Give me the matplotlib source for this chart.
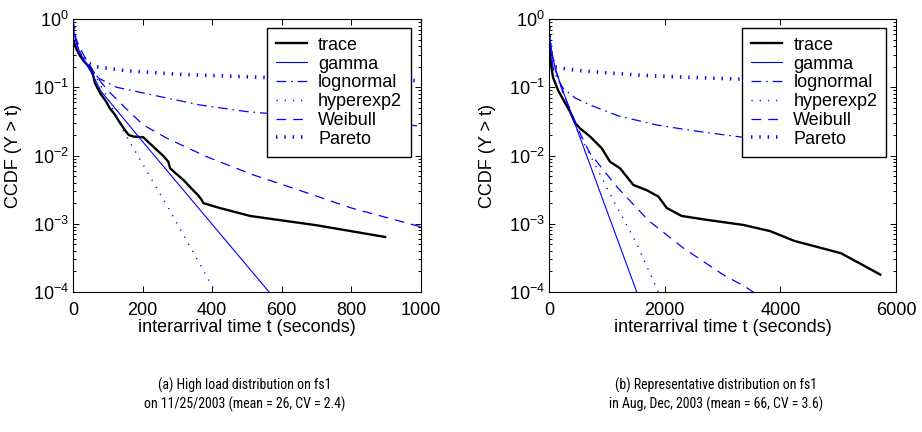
import matplotlib
matplotlib.use("Agg")
import matplotlib.pyplot as plt
from matplotlib import font_manager
from matplotlib.font_manager import FontProperties

# ---------------------------------------------------------------- data
# (a) high load day on fs1 -- t in seconds, CCDF values
trace_a_t = [0, 5, 10, 20, 30, 40, 50, 55, 60, 63, 78, 95, 106, 120, 130, 149, 160,
             173, 202, 215, 236, 260, 274, 279, 295, 317, 340, 360, 368, 375, 422,
             509, 700, 897]
trace_a_y = [0.52, 0.42, 0.36, 0.29, 0.245, 0.215, 0.195, 0.17, 0.135, 0.115, 0.082,
             0.062, 0.049, 0.040, 0.033, 0.0236, 0.020, 0.019, 0.0185, 0.016, 0.0127,
             0.0098, 0.0081, 0.0065, 0.0055, 0.0044, 0.0033, 0.0026, 0.0023, 0.0020,
             0.0017, 0.0013, 0.00095, 0.00064]

gamma_a_t = [0, 3, 8, 15, 25, 40, 60, 80, 200, 422, 600]
gamma_a_y = [1.0, 0.65, 0.48, 0.37, 0.29, 0.21, 0.14, 0.088, 0.016, 0.00072, 0.00006]

lognorm_a_t = [0, 5, 15, 30, 50, 75, 125, 250, 365, 499, 750, 1000]
lognorm_a_y = [1.0, 0.55, 0.37, 0.26, 0.18, 0.135, 0.10, 0.073, 0.055, 0.044, 0.034, 0.027]

hyper_a_t = [0, 5, 15, 30, 50, 70, 100, 125, 154, 277, 420]
hyper_a_y = [1.0, 0.6, 0.42, 0.30, 0.20, 0.13, 0.07, 0.036, 0.019, 0.0016, 0.00008]

weib_a_t = [0, 5, 15, 30, 50, 68, 100, 150, 202, 269, 384, 518, 650, 800, 1000]
weib_a_y = [1.0, 0.6, 0.42, 0.30, 0.20, 0.143, 0.09, 0.05, 0.028, 0.018, 0.0096,
            0.0052, 0.0031, 0.0017, 0.0009]

pareto_a_t = [0, 3, 10, 25, 45, 67, 150, 300, 537, 750, 1000]
pareto_a_y = [1.0, 0.6, 0.38, 0.27, 0.225, 0.20, 0.175, 0.155, 0.14, 0.132, 0.125]

# (b) representative days on fs1
trace_b_t = [0, 12, 40, 69, 155, 250, 363, 450, 536, 709, 911, 1055, 1228, 1459, 1690,
             1892, 2036, 2295, 2700, 3362, 3824, 4243, 5049, 5728]
trace_b_y = [0.45, 0.36, 0.2, 0.14, 0.091, 0.065, 0.044, 0.030, 0.025, 0.019, 0.0128,
             0.0081, 0.0065, 0.0037, 0.0031, 0.0025, 0.0017, 0.0013, 0.00115, 0.00096,
             0.00078, 0.00056, 0.00037, 0.00018]

gamma_b_t = [0, 10, 30, 60, 100, 200, 363, 1517, 1600]
gamma_b_y = [1.0, 0.6, 0.42, 0.30, 0.20, 0.11, 0.046, 0.0001, 0.000064]

lognorm_b_t = [0, 10, 30, 80, 150, 248, 450, 709, 1200, 1863, 2500, 3247, 4500, 5728]
lognorm_b_y = [1.0, 0.5, 0.3, 0.18, 0.13, 0.096, 0.07, 0.055, 0.038, 0.028, 0.023,
               0.019, 0.014, 0.0115]

hyper_b_t = [0, 20, 60, 150, 300, 507, 1113, 1517, 1891, 1950]
hyper_b_y = [1.0, 0.55, 0.30, 0.15, 0.065, 0.022, 0.0022, 0.00051, 0.0001, 0.00008]

weib_b_t = [0, 15, 50, 120, 250, 400, 550, 709, 1170, 1718, 2324, 3016, 3391, 3700]
weib_b_y = [1.0, 0.5, 0.3, 0.17, 0.08, 0.04, 0.02, 0.0108, 0.0035, 0.00112, 0.00044,
            0.000178, 0.00012, 0.00008]

pareto_b_t = [0, 5, 20, 50, 104, 300, 536, 1000, 1574, 2400, 3247, 4500, 5728]
pareto_b_y = [1.0, 0.45, 0.28, 0.215, 0.20, 0.185, 0.175, 0.163, 0.15, 0.14, 0.132,
              0.124, 0.118]

xticks_a = [0, 200, 400, 600, 800, 1000]
xticks_b = [0, 2000, 4000, 6000]

caption_a = ["(a) High load distribution on fs1",
             "on 11/25/2003 (mean = 26, CV = 2.4)"]
caption_b = ["(b) Representative distribution on fs1",
             "in Aug, Dec, 2003 (mean = 66, CV = 3.6)"]

labels = ["trace", "gamma", "lognormal", "hyperexp2", "Weibull", "Pareto"]

# ---------------------------------------------------------------- style
plt.rcParams["font.family"] = ["Liberation Sans", "DejaVu Sans"]
plt.rcParams["mathtext.fontset"] = "custom"
plt.rcParams["mathtext.rm"] = "Liberation Sans"
plt.rcParams["mathtext.it"] = "Liberation Sans:italic"
plt.rcParams["mathtext.default"] = "regular"
plt.rcParams["lines.scale_dashes"] = False


def caption_font():
    """Prefer a narrow sans face for the sub-figure captions."""
    fonts = font_manager.fontManager.ttflist
    for want in ("Liberation Sans Narrow", "DejaVu Sans Condensed", "Roboto Condensed",
                 "Open Sans Condensed"):
        for f in fonts:
            if f.name == want and f.style == "normal" and f.weight in (400, "normal", "regular"):
                return FontProperties(fname=f.fname, size=10.0)
    for f in fonts:
        if (f.name.startswith(("DejaVu Sans", "Liberation Sans", "Roboto", "Open Sans"))
                and str(f.stretch) in ("condensed", "semi-condensed", "75", "87.5")
                and f.style == "normal" and f.weight in (400, "normal", "regular")
                and "Mono" not in f.name):
            return FontProperties(fname=f.fname, size=10.0)
    return FontProperties(family="Liberation Sans", size=9.0)


cap_fp = caption_font()

BLUE = "#0000ff"
styles = [
    dict(color="black", lw=1.7, ls="-"),
    dict(color=BLUE, lw=0.8, ls="-"),
    dict(color=BLUE, lw=0.9, ls=(0, (7, 3.5, 1.2, 3.5))),
    dict(color=BLUE, lw=1.0, ls=(0, (0.9, 5.0))),
    dict(color=BLUE, lw=0.9, ls=(0, (7, 5))),
    dict(color=BLUE, lw=2.6, ls=(0, (1.0, 5.0))),
]

fig = plt.figure(figsize=(9.22, 4.32), dpi=100)
ax_a = fig.add_axes([73 / 922, 1 - 292 / 432, 348 / 922, 273 / 432])
ax_b = fig.add_axes([549 / 922, 1 - 292 / 432, 347 / 922, 273 / 432])

panels = [
    (ax_a, [(trace_a_t, trace_a_y), (gamma_a_t, gamma_a_y), (lognorm_a_t, lognorm_a_y),
            (hyper_a_t, hyper_a_y), (weib_a_t, weib_a_y), (pareto_a_t, pareto_a_y)],
     xticks_a, -0.147),
    (ax_b, [(trace_b_t, trace_b_y), (gamma_b_t, gamma_b_y), (lognorm_b_t, lognorm_b_y),
            (hyper_b_t, hyper_b_y), (weib_b_t, weib_b_y), (pareto_b_t, pareto_b_y)],
     xticks_b, -0.153),
]

for ax, series, xticks, ylab_x in panels:
    handles = []
    for (t, y), st, lab in zip(series, styles, labels):
        h, = ax.plot(t, y, label=lab, dash_capstyle="butt", **st)
        handles.append(h)
    ax.set_yscale("log")
    ax.set_ylim(1e-4, 1)
    ax.set_xlim(xticks[0], xticks[-1])
    ax.set_xticks(xticks)
    ax.set_yticks([1e-4, 1e-3, 1e-2, 1e-1, 1])
    ax.tick_params(which="both", direction="in", top=True, right=True,
                   labelsize=13, width=0.7)
    ax.tick_params(which="major", length=4)
    ax.tick_params(which="minor", length=2)
    ax.tick_params(axis="x", pad=7)
    ax.tick_params(axis="y", pad=3)
    for sp in ax.spines.values():
        sp.set_linewidth(0.8)
    ax.set_xlabel("interarrival time t (seconds)", fontsize=13)
    ax.xaxis.set_label_coords(0.5, -0.1)
    ax.set_ylabel("CCDF (Y > t)", fontsize=13)
    ax.yaxis.set_label_coords(ylab_x, 0.5)
    leg = ax.legend(handles=handles, loc="upper right",
                    bbox_to_anchor=(0.972, 0.968), fontsize=13,
                    handlelength=1.75, handletextpad=0.6, borderpad=0.5,
                    labelspacing=0.1, borderaxespad=0.0, fancybox=False,
                    framealpha=1.0)
    leg.get_frame().set_edgecolor("black")
    leg.get_frame().set_linewidth(1.0)

for cap, cx in ((caption_a, 245), (caption_b, 716)):
    fig.text(cx / 922, 1 - 385 / 432, cap[0], ha="center", va="center",
             fontproperties=cap_fp)
    fig.text(cx / 922, 1 - 404 / 432, cap[1], ha="center", va="center",
             fontproperties=cap_fp)

fig.savefig("out.png", dpi=100)
